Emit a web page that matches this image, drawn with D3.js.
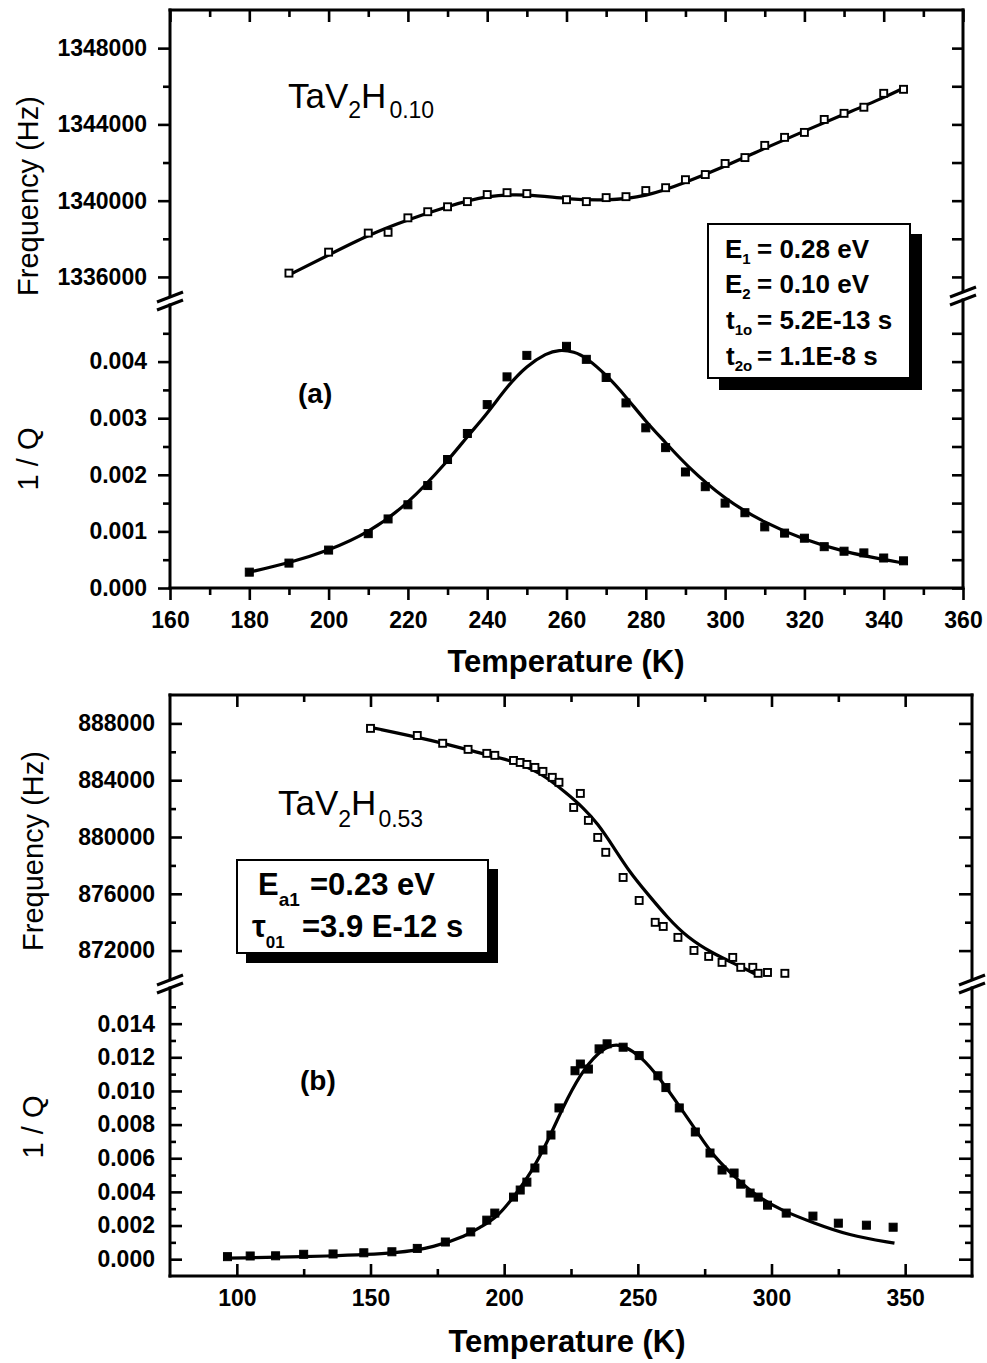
<!DOCTYPE html>
<html><head><meta charset="utf-8">
<script src="https://cdn.jsdelivr.net/npm/d3@7"></script>
<style>body{margin:0;background:#fff} text{font-family:"Liberation Sans",Arial,Helvetica,sans-serif}</style>
</head><body>
<svg id="c" width="987" height="1363"></svg>
<script>
// ---------------- Panel (a): TaV2H0.10 ----------------
const tempA_freq = [190,200,210,215,220,225,230,235,240,245,250,260,265,270,275,280,285,290,295,300,305,310,315,320,325,330,335,340,345];
const freqA = [1336200,1337300,1338300,1338340,1339100,1339420,1339680,1339950,1340320,1340420,1340370,1340050,1339950,1340160,1340210,1340530,1340680,1341100,1341370,1341950,1342260,1342900,1343320,1343580,1344260,1344580,1344900,1345630,1345840];
const fitA_fT = [190,200,210,220,230,240,250,260,270,280,290,300,310,320,330,340,345];
const fitA_f = [1336100,1337150,1338200,1339000,1339700,1340280,1340350,1340080,1340000,1340200,1340950,1341800,1342750,1343650,1344530,1345400,1345900];
const tempA_q = [180,190,200,210,215,220,225,230,235,240,245,250,260,265,270,275,280,285,290,295,300,305,310,315,320,325,330,335,340,345];
const qA = [0.00028,0.00044,0.00067,0.00096,0.00122,0.00147,0.00181,0.00227,0.00273,0.00324,0.00373,0.00411,0.00427,0.00404,0.00372,0.00327,0.00283,0.00248,0.00205,0.00179,0.00150,0.00133,0.00108,0.00097,0.00088,0.00073,0.00065,0.00062,0.00053,0.00048];
const fitA_qT = [180,190,200,210,220,230,235,240,245,250,255,258,262,265,270,275,280,285,290,300,310,320,330,340,345];
const fitA_q = [0.00028,0.00044,0.00066,0.00097,0.00148,0.00224,0.00268,0.00308,0.00356,0.00393,0.00415,0.00421,0.00418,0.00407,0.00377,0.00338,0.00294,0.00257,0.00218,0.00156,0.00115,0.00085,0.00064,0.00050,0.00044];

// ---------------- Panel (b): TaV2H0.53 ----------------
const tempB_freq = [150,167.5,177,186.5,193.5,196.5,203.5,206,208.5,211.5,214.5,218,220.5,228.5,226,231.5,235,238,244.5,250.5,256.5,259.5,265,271,276.5,281.5,285.5,288.5,293,295,298.5,305];
const freqB = [887650,887150,886600,886170,885890,885750,885390,885250,885110,884900,884620,884200,883850,883070,882080,881170,879970,878920,877150,875530,873990,873700,872930,872010,871590,871170,871520,870820,870820,870400,870460,870400];
const fitB_fT = [150,173.5,191,203.5,213.5,223.5,229.5,235,241,247,253.5,261,268.5,278,287.5,295];
const fitB_f = [887720,886800,885900,885350,884550,883070,882080,880960,879270,877510,876030,874340,872930,871800,870960,870250];
const tempB_q = [96.5,105,114.5,125,136,147.5,158,167.5,178,187.5,193.5,196.5,203.5,206,208.5,211.5,214.5,217.5,220.5,226.5,228.5,231.5,235.5,238.5,244.5,250.5,257.5,260.5,265.5,271.5,277,281.5,286,288.5,292,295,298.5,305.5,315.5,325,335.5,345.5];
const qB = [0.00015,0.00019,0.00020,0.00029,0.00031,0.00038,0.00044,0.00064,0.00102,0.00162,0.00232,0.00274,0.00369,0.00411,0.00458,0.00542,0.00649,0.00738,0.00899,0.0112,0.0116,0.0113,0.0125,0.0128,0.0126,0.0121,0.0109,0.0102,0.00899,0.00756,0.00631,0.00530,0.00512,0.00446,0.00393,0.00369,0.00321,0.00274,0.00256,0.00214,0.00202,0.00190];
const fitB_qT = [96.5,136,161,173.5,186,191,197.5,203.5,210,216,222,228.5,235,241,244.5,251,258.5,266,272.5,278.5,287.5,295,303.5,316,328.5,346];
const fitB_q = [0.00006,0.00018,0.00036,0.00070,0.00140,0.00190,0.00250,0.00369,0.00512,0.00690,0.00905,0.0110,0.0123,0.0128,0.0127,0.0121,0.0107,0.00899,0.00750,0.00607,0.00470,0.00369,0.00292,0.00214,0.00143,0.00095];

// tick values
const xTicksA = [160,180,200,220,240,260,280,300,320,340,360];
const xMinorA = [170,190,210,230,250,270,290,310,330,350];
const fTicksA = [1336000,1340000,1344000,1348000];
const fMinorA = [1338000,1342000,1346000];
const qTicksA = [0,0.001,0.002,0.003,0.004];
const qMinorA = [0.0005,0.0015,0.0025,0.0035,0.0045];
const xTicksB = [100,150,200,250,300,350];
const xMinorB = [125,175,225,275,325];
const fTicksB = [872000,876000,880000,884000,888000];
const fMinorB = [874000,878000,882000,886000];
const qTicksB = [0,0.002,0.004,0.006,0.008,0.010,0.012,0.014];
const qMinorB = [0.001,0.003,0.005,0.007,0.009,0.011,0.013,0.015];

const svg = d3.select("#c");
const FONT = '"Liberation Sans",Arial,Helvetica,sans-serif';

function axis(g, gen, scale, values, size, fmt, pad, fs) {
  const ax = gen(scale).tickValues(values).tickSize(size).tickPadding(pad || 3)
    .tickFormat(fmt || (() => ""));
  g.call(ax);
  g.select(".domain").remove();
  g.selectAll(".tick line").attr("stroke", "#000").attr("stroke-width", 2.6);
  g.selectAll(".tick text").attr("font-family", FONT).attr("font-weight", "bold")
    .attr("font-size", fs || 23).attr("fill", "#000");
}
function seg(x1, y1, x2, y2, w) {
  svg.append("line").attr("x1", x1).attr("y1", y1).attr("x2", x2).attr("y2", y2)
    .attr("stroke", "#000").attr("stroke-width", w || 3).attr("stroke-linecap", "square");
}
function slash(x, y) {
  svg.append("line").attr("x1", x - 13).attr("y1", y + 5).attr("x2", x + 13).attr("y2", y - 5)
    .attr("stroke", "#000").attr("stroke-width", 3);
}
function rich(x, y, parts, size, subSize, shift, weight) {
  const t = svg.append("text").attr("x", x).attr("y", y).attr("font-family", FONT)
    .attr("font-weight", weight || "bold").attr("font-size", size).attr("fill", "#000");
  let prevSub = false;
  parts.forEach(p => {
    const s = t.append("tspan").text(p.t).attr("font-size", p.sub ? subSize : size);
    if (p.sub && !prevSub) s.attr("dy", shift);
    if (!p.sub && prevSub) s.attr("dy", -shift);
    if (p.x !== undefined) s.attr("x", p.x);
    if (p.dx !== undefined) s.attr("dx", p.dx);
    prevSub = !!p.sub;
  });
  return t;
}
function vlabel(cx, cy, txt, size) {
  svg.append("text").attr("transform", `translate(${cx},${cy}) rotate(-90)`)
    .attr("text-anchor", "middle").attr("dy", "0.35em").attr("font-family", FONT)
    .attr("font-weight", "normal").attr("font-size", size).text(txt);
}
function fitLine(xs, ys, T, V) {
  const pts = T.map((t, i) => [xs(t), ys(V[i])]);
  svg.append("path").attr("d", d3.line().curve(d3.curveBasis)(pts))
    .attr("fill", "none").attr("stroke", "#000").attr("stroke-width", 3.2);
}
function squares(xs, ys, T, V, filled, s) {
  svg.append("g").selectAll("rect").data(T.map((t, i) => [t, V[i]])).join("rect")
    .attr("x", d => xs(d[0]) - s / 2).attr("y", d => ys(d[1]) - s / 2)
    .attr("width", s).attr("height", s)
    .attr("fill", filled ? "#000" : "#fff").attr("stroke", "#000").attr("stroke-width", filled ? 1 : 1.9);
}

// ======== Panel (a) ========
{
  const L = 170, R = 963, T = 10, B = 588;
  const x = d3.scaleLinear().domain([160, 360]).range([L, R]);
  const yF = d3.scaleLinear().domain([1335000, 1350000]).range([296, T]);
  const yQ = d3.scaleLinear().domain([0, 0.005]).range([B, 305]);

  axis(svg.append("g").attr("transform", `translate(0,${B})`), d3.axisBottom, x, xTicksA, 12, d => d, 12);
  axis(svg.append("g").attr("transform", `translate(0,${B})`), d3.axisBottom, x, xMinorA, 7);
  axis(svg.append("g").attr("transform", `translate(0,${T})`), d3.axisBottom, x, xTicksA, 12);
  axis(svg.append("g").attr("transform", `translate(0,${T})`), d3.axisBottom, x, xMinorA, 7);
  axis(svg.append("g").attr("transform", `translate(${L},0)`), d3.axisLeft, yF, fTicksA, 12, d3.format("d"), 11);
  axis(svg.append("g").attr("transform", `translate(${L},0)`), d3.axisLeft, yF, fMinorA, 7);
  axis(svg.append("g").attr("transform", `translate(${L},0)`), d3.axisLeft, yQ, qTicksA, 12, d3.format(".3f"), 11);
  axis(svg.append("g").attr("transform", `translate(${L},0)`), d3.axisLeft, yQ, qMinorA, 7);
  axis(svg.append("g").attr("transform", `translate(${R},0)`), d3.axisLeft, yF, fTicksA, 11);
  axis(svg.append("g").attr("transform", `translate(${R},0)`), d3.axisLeft, yF, fMinorA, 11);
  axis(svg.append("g").attr("transform", `translate(${R},0)`), d3.axisLeft, yQ, qTicksA, 11);
  axis(svg.append("g").attr("transform", `translate(${R},0)`), d3.axisLeft, yQ, qMinorA, 11);

  seg(L, T, R, T); seg(L, B, R, B);
  seg(L, T, L, 296); seg(L, 305, L, B);
  seg(R, T, R, 291); seg(R, 300, R, B);
  slash(L, 297); slash(L, 305);
  slash(R, 292); slash(R, 300);

  fitLine(x, yF, fitA_fT, fitA_f);
  squares(x, yF, tempA_freq, freqA, false, 7);
  fitLine(x, yQ, fitA_qT, fitA_q);
  squares(x, yQ, tempA_q, qA, true, 8);

  rich(288, 108, [{t: "TaV"}, {t: "2", sub: true}, {t: "H"}, {t: "0.10", sub: true, dx: 3}], 35, 23, 10, "normal");
  svg.append("text").attr("x", 298).attr("y", 403).attr("font-family", FONT).attr("font-weight", "bold")
    .attr("font-size", 28).text("(a)");
  vlabel(28, 196, "Frequency (Hz)", 29);
  vlabel(28, 459, "1 / Q", 29);
  svg.append("text").attr("x", 566).attr("y", 672).attr("text-anchor", "middle").attr("font-family", FONT)
    .attr("font-weight", "bold").attr("font-size", 31).text("Temperature (K)");

  svg.append("rect").attr("x", 719).attr("y", 234).attr("width", 203).attr("height", 156).attr("fill", "#000");
  svg.append("rect").attr("x", 708).attr("y", 224).attr("width", 202).attr("height", 154)
    .attr("fill", "#fff").attr("stroke", "#000").attr("stroke-width", 2);
  rich(725, 258, [{t: "E"}, {t: "1", sub: true}, {t: "= 0.28 eV", x: 757}], 26, 15, 6);
  rich(725, 293, [{t: "E"}, {t: "2", sub: true}, {t: "= 0.10 eV", x: 757}], 26, 15, 6);
  rich(726, 329, [{t: "t"}, {t: "1o", sub: true}, {t: "= 5.2E-13 s", x: 757}], 26, 15, 6);
  rich(726, 365, [{t: "t"}, {t: "2o", sub: true}, {t: "= 1.1E-8 s", x: 757}], 26, 15, 6);
}

// ======== Panel (b) ========
{
  const L = 170, R = 972, T = 695, B = 1276;
  const x = d3.scaleLinear().domain([75, 375]).range([L, R]);
  const yF = d3.scaleLinear().domain([870000, 890000]).range([979, T]);
  const yQ = d3.scaleLinear().domain([-0.001, 0.016]).range([B, 990]);

  axis(svg.append("g").attr("transform", `translate(0,${B})`), d3.axisBottom, x, xTicksB, -12, d => d, 14);
  axis(svg.append("g").attr("transform", `translate(0,${B})`), d3.axisBottom, x, xMinorB, -7);
  axis(svg.append("g").attr("transform", `translate(0,${T})`), d3.axisBottom, x, xTicksB, 12);
  axis(svg.append("g").attr("transform", `translate(0,${T})`), d3.axisBottom, x, xMinorB, 7);
  axis(svg.append("g").attr("transform", `translate(${L},0)`), d3.axisLeft, yF, fTicksB, -12, d3.format("d"), 15);
  axis(svg.append("g").attr("transform", `translate(${L},0)`), d3.axisLeft, yF, fMinorB, -6);
  axis(svg.append("g").attr("transform", `translate(${L},0)`), d3.axisLeft, yQ, qTicksB, -12, d3.format(".3f"), 15);
  axis(svg.append("g").attr("transform", `translate(${L},0)`), d3.axisLeft, yQ, qMinorB, -6);
  axis(svg.append("g").attr("transform", `translate(${R},0)`), d3.axisLeft, yF, fTicksB, 13);
  axis(svg.append("g").attr("transform", `translate(${R},0)`), d3.axisLeft, yF, fMinorB, 7);
  axis(svg.append("g").attr("transform", `translate(${R},0)`), d3.axisLeft, yQ, qTicksB, 13);
  axis(svg.append("g").attr("transform", `translate(${R},0)`), d3.axisLeft, yQ, qMinorB, 7);

  seg(L, T, R, T); seg(L, B, R, B);
  seg(L, T, L, 979); seg(L, 988, L, B);
  seg(R, T, R, 979); seg(R, 988, R, B);
  slash(L, 980); slash(L, 988);
  slash(R, 980); slash(R, 988);

  fitLine(x, yF, fitB_fT, fitB_f);
  squares(x, yF, tempB_freq, freqB, false, 7);
  fitLine(x, yQ, fitB_qT, fitB_q);
  squares(x, yQ, tempB_q, qB, true, 8);

  rich(278, 815, [{t: "TaV"}, {t: "2", sub: true}, {t: "H"}, {t: "0.53", sub: true, dx: 2}], 35, 23, 12, "normal");
  svg.append("text").attr("x", 300).attr("y", 1090).attr("font-family", FONT).attr("font-weight", "bold")
    .attr("font-size", 28).text("(b)");
  vlabel(33, 851, "Frequency (Hz)", 29);
  vlabel(33, 1127, "1 / Q", 29);
  svg.append("text").attr("x", 567).attr("y", 1352).attr("text-anchor", "middle").attr("font-family", FONT)
    .attr("font-weight", "bold").attr("font-size", 31).text("Temperature (K)");

  svg.append("rect").attr("x", 246).attr("y", 869).attr("width", 252).attr("height", 94).attr("fill", "#000");
  svg.append("rect").attr("x", 237).attr("y", 860).attr("width", 251).attr("height", 93)
    .attr("fill", "#fff").attr("stroke", "#000").attr("stroke-width", 2);
  rich(258, 895, [{t: "E"}, {t: "a1", sub: true}, {t: "=0.23 eV", x: 310}], 31, 19, 11);
  rich(252, 937, [{t: "τ"}, {t: "01", sub: true}, {t: "=3.9 E-12 s", x: 302}], 31, 17, 11);
}
</script>
</body></html>
